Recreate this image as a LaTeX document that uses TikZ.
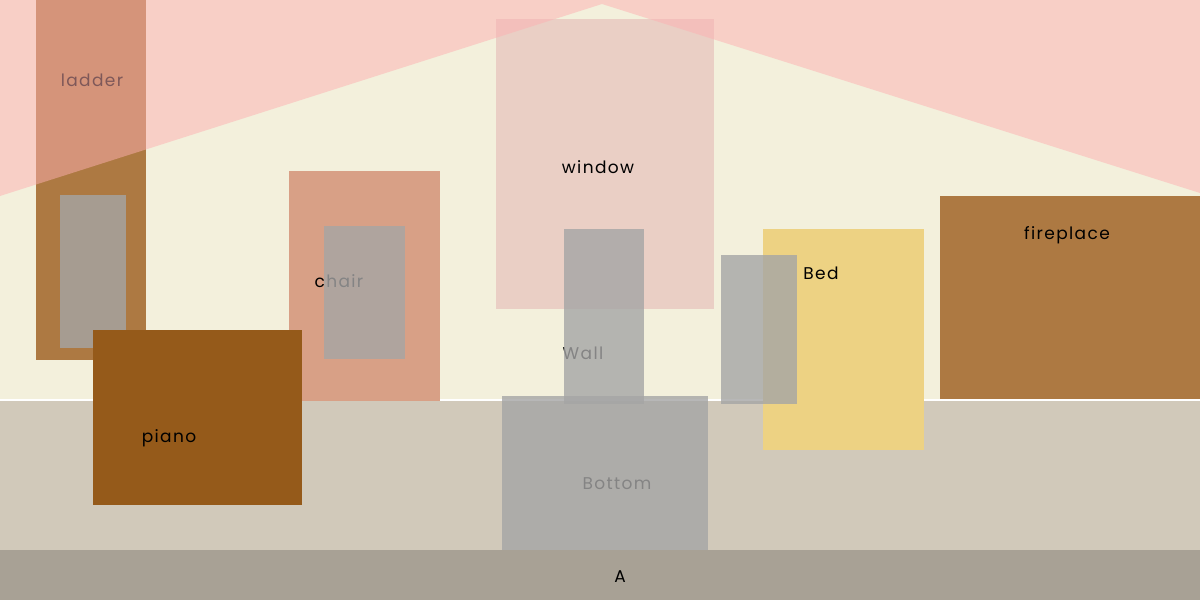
\documentclass[tikz,border=0pt]{standalone}
\usepackage{fontspec}
\setmainfont{Poppins}[LetterSpace=8]
\definecolor{cream}{HTML}{F3F0DC}
\definecolor{floorbeige}{HTML}{D1C9BA}
\definecolor{bandgrey}{HTML}{A8A195}
\definecolor{roofpink}{HTML}{FDB0B2}
\definecolor{woodbrown}{HTML}{AD7942}
\definecolor{windowpink}{HTML}{EACFC5}
\definecolor{chairpink}{HTML}{D8A086}
\definecolor{pianobrown}{HTML}{955A1A}
\definecolor{bedyellow}{HTML}{EDD283}
\definecolor{boxgrey}{HTML}{A5A5A5}

\begin{document}
\begin{tikzpicture}[x=1pt,y=-1pt,
    word/.style={anchor=base, inner sep=0pt, font=\fontsize{17}{20}\selectfont},
    greybox/.style={fill=boxgrey, fill opacity=0.8}]
    \useasboundingbox (0,0) rectangle (1200,600);
    % wall, floor and bottom band
    \fill[cream] (0,0) rectangle (1200,400);
    \fill[floorbeige] (0,400) rectangle (1200,550);
    \draw[white, line width=1.5] (0,400) -- (1200,400);
    \fill[bandgrey] (0,550) rectangle (1200,600);
    \node[word] (a) at (620,582) {A};
    % ladder
    \fill[woodbrown] (36,0) rectangle (146,360);
    \node[word] (ladder) at (92,86) {ladder};
    \fill[greybox] (60,195) rectangle (126,348);
    % window
    \fill[windowpink] (496,19) rectangle (714,309);
    \node[word] (window) at (598,173) {window};
    % roof
    \fill[roofpink, fill opacity=0.5] (0,0) -- (1200,0) -- (1200,193) -- (602,4) -- (0,196) -- cycle;
    % chair
    \fill[chairpink] (289,171) rectangle (440,401);
    \node[word] (chair) at (339,287) {chair};
    \fill[greybox] (324,226) rectangle (405,359);
    % piano
    \fill[pianobrown] (93,330) rectangle (302,505);
    \node[word] (piano) at (169,442) {piano};
    % wall and bottom
    \node[word] (wall) at (583,359) {Wall};
    \fill[greybox] (564,229) rectangle (644,404);
    \node[word] (bottom) at (617,489) {Bottom};
    \fill[greybox] (502,396) rectangle (708,550);
    % bed
    \fill[bedyellow] (763,229) rectangle (924,450);
    \fill[greybox] (721,255) rectangle (797,404);
    \node[word] (bed) at (821,279) {Bed};
    % fireplace
    \fill[woodbrown] (940,196) rectangle (1200,399);
    \node[word] (fireplace) at (1067,239) {fireplace};
\end{tikzpicture}
\end{document}
